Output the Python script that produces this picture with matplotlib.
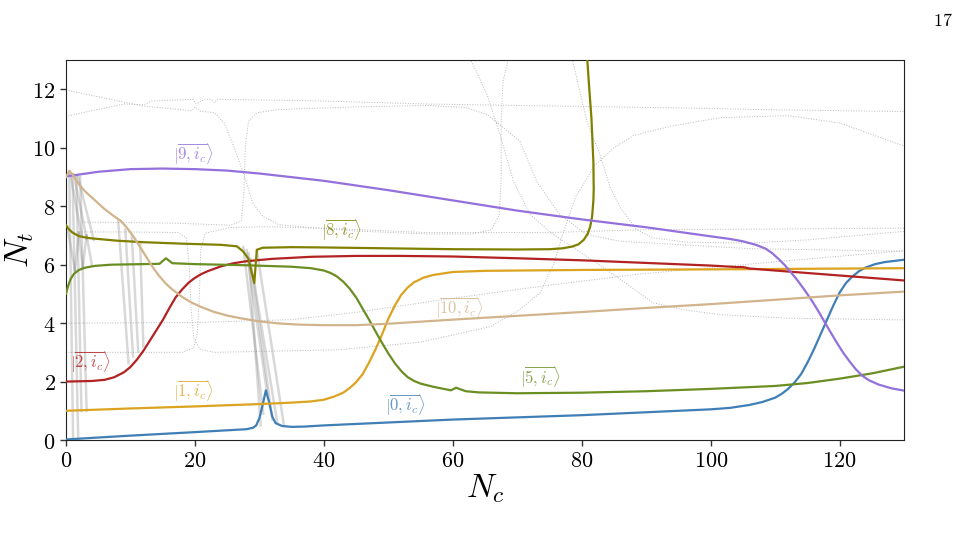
import numpy as np
import matplotlib
matplotlib.use("Agg")
import matplotlib.pyplot as plt
from matplotlib.ticker import FuncFormatter

plt.rcParams['font.family'] = 'serif'
plt.rcParams['font.serif'] = ['DejaVu Serif']
plt.rcParams['mathtext.fontset'] = 'cm'

# courbes principales
x0 = [0, 10, 20, 28, 29, 29.5, 30, 30.5, 31, 31.5, 32, 32.5, 33.5, 35, 37, 40, 60, 80, 100, 103, 106, 108, 110, 111, 112, 113, 114, 115, 116, 117, 118, 119, 120, 121, 122, 123, 124, 125.5, 127, 130]
y0 = [0.02, 0.15, 0.27, 0.37, 0.42, 0.5, 0.75, 1.2, 1.7, 1.3, 0.8, 0.58, 0.48, 0.45, 0.46, 0.5, 0.7, 0.85, 1.05, 1.1, 1.2, 1.3, 1.45, 1.58, 1.75, 1.97, 2.25, 2.65, 3.1, 3.6, 4.1, 4.6, 5.05, 5.38, 5.6, 5.78, 5.9, 6.02, 6.09, 6.17]

x1 = [0, 10, 20, 30, 35, 38, 40, 41.5, 43, 44, 45, 46, 47, 48, 49, 50, 51, 52, 53, 54, 55.5, 57, 60, 65, 70, 80, 100, 130]
y1 = [1.0, 1.08, 1.15, 1.23, 1.28, 1.32, 1.38, 1.48, 1.62, 1.78, 1.98, 2.25, 2.65, 3.1, 3.6, 4.15, 4.6, 4.97, 5.22, 5.4, 5.56, 5.65, 5.75, 5.79, 5.8, 5.82, 5.84, 5.88]

x2 = [0, 4, 6, 7.5, 9, 10, 11, 12, 13, 14, 15, 16, 17, 18, 19, 20, 21, 22, 24, 26, 28, 32, 38, 45, 52, 60, 70, 80, 90, 100, 104, 105, 106, 110, 120, 130]
y2 = [2.0, 2.02, 2.06, 2.15, 2.32, 2.5, 2.75, 3.05, 3.4, 3.75, 4.1, 4.5, 4.88, 5.15, 5.38, 5.55, 5.68, 5.78, 5.94, 6.05, 6.12, 6.2, 6.27, 6.3, 6.3, 6.28, 6.22, 6.15, 6.06, 5.97, 5.92, 5.92, 5.87, 5.8, 5.63, 5.46]

x5 = [0, 0.3, 0.7, 1.2, 2, 3, 4.5, 7, 14.5, 15.5, 16.5, 20, 28, 35, 38, 40, 41, 42, 43, 44, 45, 46, 47, 48, 49, 50, 51, 52, 53, 54, 55, 57, 59.7, 60.5, 62, 64, 70, 80, 90, 100, 110, 115, 120, 125, 130]
y5 = [5.0, 5.25, 5.5, 5.68, 5.82, 5.9, 5.96, 6.0, 6.03, 6.22, 6.05, 6.02, 5.98, 5.93, 5.88, 5.8, 5.72, 5.6, 5.42, 5.18, 4.88, 4.5, 4.12, 3.72, 3.33, 2.96, 2.63, 2.36, 2.15, 2.02, 1.93, 1.82, 1.7, 1.79, 1.67, 1.63, 1.6, 1.62, 1.67, 1.75, 1.85, 1.95, 2.1, 2.28, 2.51]

x8 = [0, 0.5, 1, 2, 3, 4, 8, 12, 18, 24, 26.5, 27.5, 28.3, 29.2, 29.6, 30.5, 35, 40, 50, 60, 70, 75, 77, 78.5, 79.5, 80.3, 80.9, 81.3, 81.6, 81.8, 81.85, 81.8, 81.5, 81.1, 80.8]
y8 = [7.35, 7.2, 7.1, 6.98, 6.93, 6.9, 6.82, 6.77, 6.72, 6.68, 6.63, 6.45, 6.2, 5.37, 6.51, 6.58, 6.6, 6.59, 6.56, 6.53, 6.52, 6.53, 6.56, 6.62, 6.7, 6.85, 7.05, 7.3, 7.65, 8.2, 8.6, 9.5, 11.0, 12.2, 13.2]

x9 = [0, 5, 10, 15, 20, 25, 30, 40, 50, 60, 70, 80, 90, 100, 103, 105, 107, 108.5, 109.5, 110.5, 111.5, 112.5, 113.5, 114.5, 115.5, 116.5, 117.5, 118.5, 119.5, 120.5, 121.5, 122.5, 123.5, 124.5, 126, 128, 130]
y9 = [9.02, 9.18, 9.27, 9.29, 9.27, 9.22, 9.12, 8.87, 8.55, 8.2, 7.85, 7.55, 7.28, 6.97, 6.88, 6.8, 6.68, 6.55, 6.4, 6.2, 5.98, 5.72, 5.45, 5.15, 4.83, 4.48, 4.1, 3.72, 3.35, 3.0, 2.7, 2.42, 2.2, 2.05, 1.9, 1.77, 1.69]

x10 = [0, 0.5, 1, 2, 3, 4.5, 6, 7.5, 8.5, 9.5, 10.5, 11.5, 12.5, 13.5, 14.5, 15.5, 16.5, 18, 19.5, 21, 23, 25, 27, 30, 33, 36, 40, 45, 50, 60, 70, 80, 90, 100, 110, 120, 130]
y10 = [9.0, 9.2, 9.1, 8.75, 8.5, 8.2, 7.9, 7.65, 7.5, 7.25, 6.95, 6.6, 6.25, 5.9, 5.6, 5.35, 5.15, 4.9, 4.7, 4.55, 4.38, 4.26, 4.17, 4.06, 3.99, 3.95, 3.93, 3.93, 3.98, 4.12, 4.25, 4.38, 4.52, 4.65, 4.8, 4.95, 5.08]

states = [(x0, y0, '#3f7fb6', '0', 52.6, 1.17),
          (x1, y1, '#dba31f', '1', 19.7, 1.65),
          (x2, y2, '#b22222', '2', 3.7, 2.67),
          (x5, y5, '#6b8e23', '5', 73.5, 2.13),
          (x8, y8, '#808000', '8', 42.7, 7.16),
          (x9, y9, '#9370db', '9', 19.7, 9.77),
          (x10, y10, '#d2b48c', '10', 61.0, 4.5)]

# niveaux gris en pointilles
grey_dotted = [
    ([0, 6, 12, 19.5, 20, 20.7, 23, 24.5, 26, 27.5, 29, 30.5, 33, 38, 45, 56, 63, 66, 67.2, 67.5, 67.5, 67.8, 68.7],
     [11.98, 11.7, 11.43, 11.27, 11.4, 11.26, 11.2, 10.86, 10.06, 9.14, 8.1, 7.66, 7.37, 7.27, 7.15, 7.05, 7.05, 7.2, 7.7, 9, 11, 12.3, 13.1]),
    ([0, 9, 12, 13.3, 19.7, 20.2, 21.5, 22.5, 23, 23.5, 40, 56, 75, 94, 110, 130],
     [11.08, 11.5, 11.47, 11.6, 11.66, 11.5, 11.66, 11.66, 11.55, 11.66, 11.6, 11.5, 11.43, 11.37, 11.3, 11.24]),
    ([2.5, 10, 17, 22, 25.5, 27.2, 27.6, 27.8, 28.3, 29.6, 33, 45, 56, 62, 65.3, 70.4, 73, 76.6, 80.8, 86, 94, 106, 130],
     [7.46, 7.44, 7.42, 7.38, 7.35, 7.5, 8.5, 10, 10.9, 11.2, 11.31, 11.4, 11.45, 11.38, 11.14, 10.23, 8.85, 7.71, 7.03, 6.8, 6.7, 6.55, 6.46]),
    ([2.5, 10, 17.5, 18.7, 19.1, 19.4, 19.8, 20.8, 23, 42.5, 55, 65.8, 70, 73.5, 75.6, 77, 79, 82, 85, 88, 94, 101.5, 112, 120, 130],
     [7.12, 7.12, 7.1, 6.9, 6.0, 4.5, 3.5, 3.1, 3.0, 3.09, 3.35, 3.88, 4.4, 5.03, 6.0, 7.0, 8.3, 9.4, 10.0, 10.42, 10.75, 11.03, 11.1, 10.85, 10.06]),
    ([0, 18, 19.8, 20.4, 20.7, 20.9, 21.6, 25.4, 31, 40, 56, 75, 90, 110, 130],
     [3.0, 3.0, 3.15, 3.7, 5.0, 6.5, 7.08, 7.27, 7.3, 7.25, 7.1, 7.1, 7.2, 7.22, 7.25]),
    ([0, 20, 35, 45, 60, 75, 89, 110, 130],
     [4.0, 4.02, 4.12, 4.37, 4.85, 5.3, 5.68, 6.1, 6.48]),
    ([62.7, 65.3, 67.3, 69.4, 72, 75.6, 80, 86, 91, 96, 101.5, 111.8, 130],
     [13.05, 11.83, 10.46, 8.85, 7.71, 7.03, 6.4, 5.5, 4.7, 4.45, 4.29, 4.17, 4.11]),
    ([78.5, 80.8, 82.8, 84.4, 86, 88.5, 91, 96.3, 106, 115, 130],
     [13.05, 10.9, 9.77, 8.64, 7.95, 7.2, 6.92, 6.77, 6.74, 6.85, 7.14]),
]

# transitions (segments gris)
jump_x0 = [0.5, 1.0, 1.6, 2.2, 0.2, 1.4, 2.0, 2.6, 3.2, 0.6, 1.2, 1.8,
           8.1, 9.2, 10.2, 11.5,
           27.5, 28.0, 28.6, 29.2, 29.6, 28.3]
jump_y0 = [9.2, 9.1, 9.05, 9.0, 7.3, 5.8, 7.1, 5.9, 7.0, 9.2, 9.1, 9.05,
           7.48, 7.2, 6.97, 6.74,
           6.6, 6.5, 6.2, 5.4, 6.5, 6.4]
jump_x1 = [1.1, 1.9, 2.4, 3.2, 1.4, 2.0, 2.6, 3.2, 4.0, 2.4, 3.2, 4.3,
           9.7, 10.4, 11.2, 12.0,
           30.6, 31.2, 32.0, 32.8, 33.8, 30.2]
jump_y1 = [0.0, 0.0, 1.0, 1.0, 5.8, 7.1, 5.9, 7.0, 6.0, 7.0, 6.9, 6.85,
           2.63, 2.86, 3.03, 3.2,
           0.9, 1.6, 0.7, 0.55, 0.5, 0.5]

fig = plt.figure(figsize=(9.69, 5.37), dpi=100)
ax = fig.add_axes([0.0681, 0.1806, 0.865, 0.7074])

for gx, gy in grey_dotted:
    ax.plot(gx, gy, color='#b8b8b8', lw=0.7, ls=':', zorder=1)

for i in range(len(jump_x0)):
    ax.plot([jump_x0[i], jump_x1[i]], [jump_y0[i], jump_y1[i]], color='grey', lw=1.8, alpha=0.3, zorder=2)

for sx, sy, c, n, lx, ly in states:
    ax.plot(sx, sy, color=c, lw=1.6, zorder=3)
    ax.text(lx, ly, r'$|\overline{%s,i_c}\rangle$' % n, color=c, alpha=0.8, fontsize=12,
            ha='center', va='center', zorder=4)

ax.set_xlim(0, 130)
ax.set_ylim(0, 13)
ax.set_xticks([0, 20, 40, 60, 80, 100, 120])
ax.set_yticks([0, 2, 4, 6, 8, 10, 12])
fmt = FuncFormatter(lambda v, p: '$%g$' % v)
ax.xaxis.set_major_formatter(fmt)
ax.yaxis.set_major_formatter(fmt)
ax.tick_params(labelsize=16, width=1, length=4, color='#333333')
for s in ax.spines.values():
    s.set_color('#222222')
ax.set_xlabel('$N_c$', fontsize=24, labelpad=0)
ax.set_ylabel('$N_t$', fontsize=24)
ax.yaxis.set_label_coords(-0.036, 0.5)

fig.text(0.983, 0.96, '$17$', fontsize=13, ha='right', va='center')

fig.savefig('out.png', dpi=100)
